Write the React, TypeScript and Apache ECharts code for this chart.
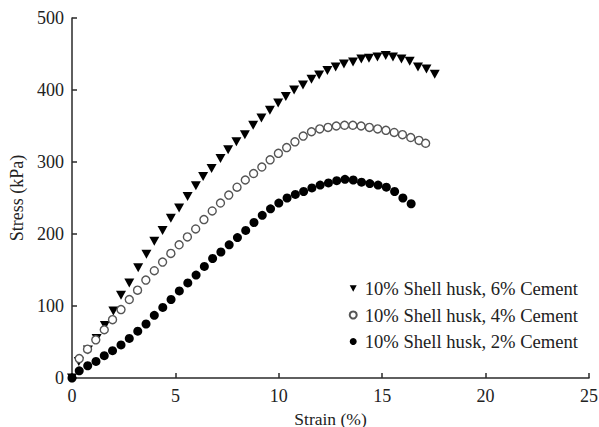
import React, { useEffect, useRef } from "react";
import * as echarts from "echarts";

const names = [
  "10% Shell husk, 6% Cement",
  "10% Shell husk, 4% Cement",
  "10% Shell husk, 2% Cement",
];

const cement6: [number, number][] = [
  [0, 0], [0.33, 23], [0.77, 39], [1.19, 55], [1.59, 73], [2.0, 93], [2.37, 115],
  [2.77, 132], [3.2, 153], [3.6, 172], [3.98, 190], [4.38, 205], [4.78, 222],
  [5.18, 236], [5.59, 252], [5.99, 267], [6.34, 280], [6.75, 291], [7.18, 305],
  [7.55, 317], [7.95, 328], [8.36, 338], [8.76, 351], [9.16, 361], [9.57, 372],
  [9.97, 382], [10.34, 391], [10.74, 400], [11.17, 407], [11.58, 415], [11.95, 421],
  [12.35, 427], [12.75, 432], [13.15, 436], [13.59, 439], [13.99, 443], [14.36, 444],
  [14.77, 446], [15.17, 448], [15.52, 446], [15.93, 443], [16.33, 440], [16.73, 432],
  [17.14, 429], [17.54, 422],
];

const cement4: [number, number][] = [
  [0.35, 27], [0.75, 40], [1.15, 53], [1.56, 67], [1.96, 81], [2.37, 95], [2.77, 109],
  [3.17, 122], [3.57, 136], [3.98, 149], [4.38, 161], [4.78, 173], [5.18, 185],
  [5.58, 196], [5.98, 207], [6.38, 220], [6.78, 232], [7.18, 243], [7.58, 254],
  [7.98, 265], [8.38, 275], [8.78, 284], [9.18, 293], [9.58, 303], [9.98, 312],
  [10.38, 320], [10.78, 328], [11.18, 336], [11.58, 342], [11.98, 346], [12.38, 348],
  [12.78, 350], [13.18, 351], [13.58, 351], [13.98, 350], [14.38, 348], [14.78, 346],
  [15.18, 344], [15.58, 341], [15.98, 338], [16.38, 334], [16.78, 330], [17.1, 326],
];

const cement2: [number, number][] = [
  [0, 0], [0.35, 10], [0.76, 17], [1.16, 23], [1.56, 31], [1.96, 38], [2.37, 46],
  [2.77, 55], [3.18, 65], [3.58, 75], [3.98, 87], [4.39, 98], [4.79, 109], [5.19, 121],
  [5.6, 132], [6.0, 143], [6.4, 155], [6.8, 166], [7.2, 175], [7.6, 185], [8.0, 195],
  [8.4, 205], [8.8, 216], [9.2, 226], [9.6, 235], [10.0, 243], [10.4, 250], [10.8, 255],
  [11.2, 259], [11.6, 264], [12.0, 268], [12.4, 271], [12.8, 274], [13.2, 276],
  [13.6, 275], [14.0, 272], [14.4, 270], [14.8, 268], [15.2, 265], [15.6, 259],
  [16.0, 250], [16.4, 242],
];

const xTicks = [0, 5, 10, 15, 20, 25];
const yTicks = [0, 100, 200, 300, 400, 500];

const FONT = "'Liberation Serif', 'Times New Roman', serif";
const DOWN_TRIANGLE = "path://M0,0L10,0L5,9Z";

export default function App() {
  const ref = useRef<HTMLDivElement>(null);
  useEffect(() => {
    if (!ref.current) return;
    const chart = echarts.init(ref.current, undefined, { renderer: "svg" });
    const axisCommon = {
      axisLine: { show: true, lineStyle: { color: "#2a2a2a", width: 1.5 } },
      axisTick: { show: true, inside: true, length: 5, lineStyle: { color: "#2a2a2a", width: 1.5 } },
      splitLine: { show: false },
      axisLabel: { color: "#222", fontFamily: FONT, fontSize: 18 },
      nameTextStyle: { color: "#222", fontFamily: FONT, fontSize: 18 },
    };
    chart.setOption({
      animation: false,
      backgroundColor: "#fff",
      grid: { left: 72, top: 18, right: 10, bottom: 49, containLabel: false, outerBoundsMode: "none" },
      legend: {
        orient: "vertical",
        right: 21,
        top: 279,
        itemWidth: 7,
        itemHeight: 7,
        itemGap: 7.5,
        padding: 0,
        textStyle: {
          color: "#222",
          fontFamily: FONT,
          fontSize: 18.6,
          lineHeight: 18,
          padding: [0, 0, 0, 3],
        },
        data: names,
      },
      xAxis: {
        type: "value",
        min: xTicks[0],
        max: xTicks[xTicks.length - 1],
        interval: 5,
        name: "Strain (%)",
        nameLocation: "middle",
        nameGap: 26,
        ...axisCommon,
        nameTextStyle: { color: "#222", fontFamily: FONT, fontSize: 17.5, lineHeight: 17 },
        axisLabel: { ...axisCommon.axisLabel, margin: 9 },
      },
      yAxis: {
        type: "value",
        min: yTicks[0],
        max: yTicks[yTicks.length - 1],
        interval: 100,
        name: "Stress (kPa)",
        nameLocation: "middle",
        nameGap: 44,
        ...axisCommon,
        axisLabel: { ...axisCommon.axisLabel, margin: 8 },
      },
      series: [
        {
          name: names[0],
          type: "scatter",
          data: cement6,
          symbol: DOWN_TRIANGLE,
          symbolSize: [10, 9],
          itemStyle: { color: "#000", opacity: 1 },
        },
        {
          name: names[1],
          type: "scatter",
          data: cement4,
          symbol: "circle",
          symbolSize: 8,
          itemStyle: { color: "#fff", borderColor: "#555", borderWidth: 1.4, opacity: 1 },
        },
        {
          name: names[2],
          type: "scatter",
          data: cement2,
          symbol: "circle",
          symbolSize: 9,
          itemStyle: { color: "#000", opacity: 1 },
        },
      ],
    });
    return () => chart.dispose();
  }, []);
  return <div ref={ref} style={{ width: 599, height: 427, position: "absolute", left: 0, top: 0 }} />;
}
